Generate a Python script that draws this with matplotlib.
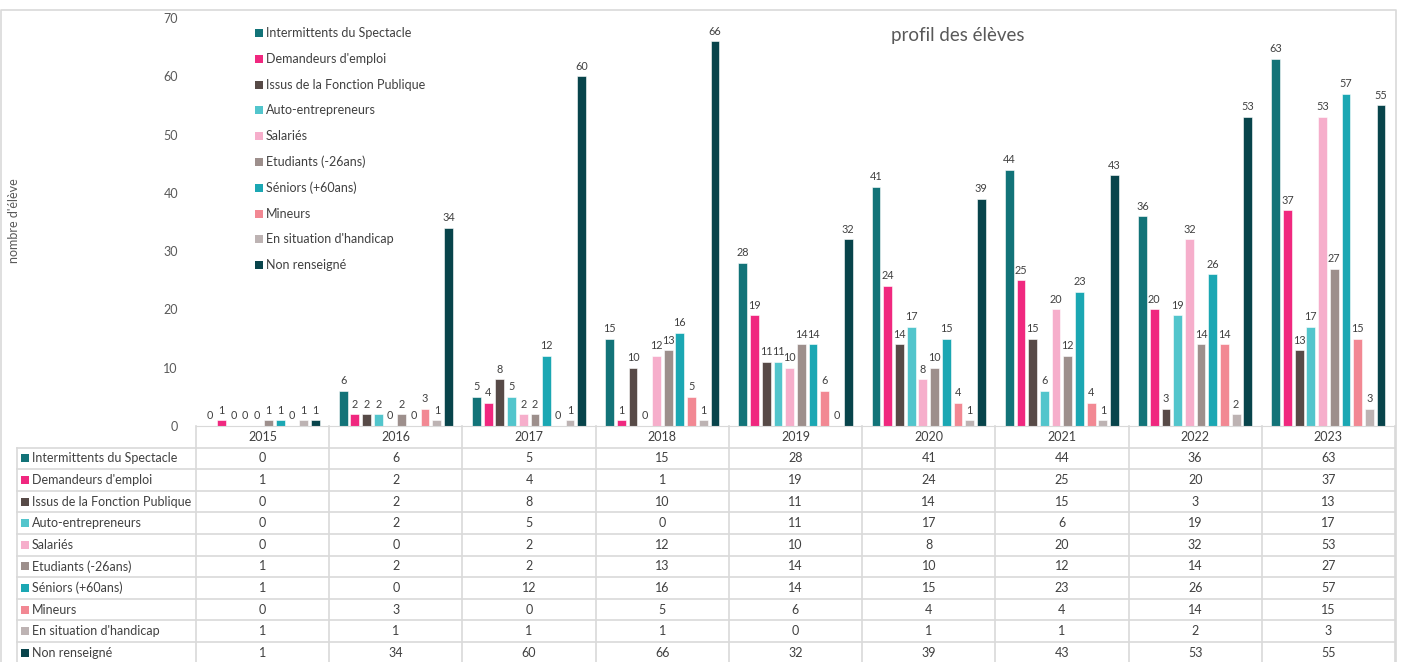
import numpy as np
import matplotlib
matplotlib.use("Agg")
import matplotlib.pyplot as plt
from matplotlib.patches import Rectangle

plt.rcParams['font.family'] = ['Lato', 'DejaVu Sans']

years = ['2015', '2016', '2017', '2018', '2019', '2020', '2021', '2022', '2023']
categories = ['Intermittents du Spectacle', "Demandeurs d'emploi", 'Issus de la Fonction Publique',
              'Auto-entrepreneurs', 'Salariés', 'Etudiants (-26ans)', 'Séniors (+60ans)',
              'Mineurs', "En situation d'handicap", 'Non renseigné']
intermittents = [0, 6, 5, 15, 28, 41, 44, 36, 63]
demandeurs = [1, 2, 4, 1, 19, 24, 25, 20, 37]
fonction_publique = [0, 2, 8, 10, 11, 14, 15, 3, 13]
auto_entrepreneurs = [0, 2, 5, 0, 11, 17, 6, 19, 17]
salaries = [0, 0, 2, 12, 10, 8, 20, 32, 53]
etudiants = [1, 2, 2, 13, 14, 10, 12, 14, 27]
seniors = [1, 0, 12, 16, 14, 15, 23, 26, 57]
mineurs = [0, 3, 0, 5, 6, 4, 4, 14, 15]
handicap = [1, 1, 1, 1, 0, 1, 1, 2, 3]
non_renseigne = [1, 34, 60, 66, 32, 39, 43, 53, 55]
series = [intermittents, demandeurs, fonction_publique, auto_entrepreneurs, salaries,
          etudiants, seniors, mineurs, handicap, non_renseigne]
colors = ['#127378', '#f0287f', '#574a47', '#52c5cc', '#f6aecb',
          '#9d8f8c', '#1ba7b3', '#f28893', '#bdb3b3', '#08444b']

W, H = 1402, 662
txt = '#404040'
grid_c = '#d9d9d9'

fig = plt.figure(figsize=(W / 100, H / 100), dpi=100)

# overlay in pixel coordinates for frame, table and legend
ov = fig.add_axes([0, 0, 1, 1], zorder=0)
ov.set_xlim(0, W)
ov.set_ylim(H, 0)
ov.axis('off')

plot_left, plot_right = 196, 1395
y0_px, y70_px = 426, 18
ax = fig.add_axes([plot_left / W, 1 - y0_px / H, (plot_right - plot_left) / W, (y0_px - y70_px) / H], zorder=1)
ax.patch.set_alpha(0)

n = len(categories)
x = np.arange(len(years))
slot = 0.0878
bw = 0.066
for k, (vals, c) in enumerate(zip(series, colors)):
    xs = x + (k - (n - 1) / 2) * slot
    bars = ax.bar(xs, vals, bw, color=c, edgecolor='white', linewidth=0.4)
    for xi, v in zip(xs, vals):
        ax.text(xi, v + 0.8, str(v), ha='center', va='bottom', fontsize=7.8, color=txt)

ax.set_xlim(-0.5, len(years) - 0.5)
ax.set_ylim(0, 70)
ax.set_yticks(range(0, 71, 10))
ax.tick_params(axis='y', length=0, labelsize=9, labelcolor='#595959', pad=13)
ax.set_xticks([])
for s in ['top', 'right', 'left']:
    ax.spines[s].set_visible(False)
ax.spines['bottom'].set_color(grid_c)

# outer frame
ov.plot([1, 1, 1396, 1396], [H, 10, 10, H], color=grid_c, lw=1.2)

# title and y label
ov.text(958, 35, 'profil des élèves', ha='center', va='center', fontsize=13.5, color='#595959')
ov.text(14, 221, "nombre d'élève", ha='center', va='center', rotation=90, fontsize=9, color='#595959')

# legend
leg_y0, leg_dy = 33, 25.8
for k, (lab, c) in enumerate(zip(categories, colors)):
    yy = leg_y0 + k * leg_dy
    ov.add_patch(Rectangle((255, yy - 4), 8, 8, color=c, lw=0))
    ov.text(266, yy, lab, ha='left', va='center', fontsize=9, color=txt)

# data table
col_w = (plot_right - plot_left) / len(years)
tbl_left = 17
head_top, head_bot = 426, 447.5
row_h = 21.6
rows_bottom = head_bot + row_h * n
for j in range(len(years) + 1):
    xx = plot_left + j * col_w
    ov.plot([xx, xx], [head_top, rows_bottom], color=grid_c, lw=1.2)
ov.plot([tbl_left, tbl_left], [head_bot, rows_bottom], color=grid_c, lw=1.2)
ov.plot([plot_left, plot_right], [head_bot, head_bot], color=grid_c, lw=1.2)
ov.plot([tbl_left, plot_left], [head_bot, head_bot], color=grid_c, lw=1.2)
for i in range(1, n + 1):
    yy = head_bot + i * row_h
    ov.plot([tbl_left, plot_right], [yy, yy], color=grid_c, lw=1.2)

for j, yr in enumerate(years):
    ov.text(plot_left + (j + 0.5) * col_w, (head_top + head_bot) / 2 + 0.5, yr,
            ha='center', va='center', fontsize=9, color=txt)

for i, (lab, c, vals) in enumerate(zip(categories, colors, series)):
    yc = head_bot + (i + 0.5) * row_h
    ov.add_patch(Rectangle((21, yc - 4), 8, 8, color=c, lw=0))
    ov.text(32, yc, lab, ha='left', va='center', fontsize=9, color=txt)
    for j, v in enumerate(vals):
        ov.text(plot_left + (j + 0.5) * col_w, yc, str(v), ha='center', va='center',
                fontsize=9, color=txt)

fig.savefig('out.png', dpi=100)
